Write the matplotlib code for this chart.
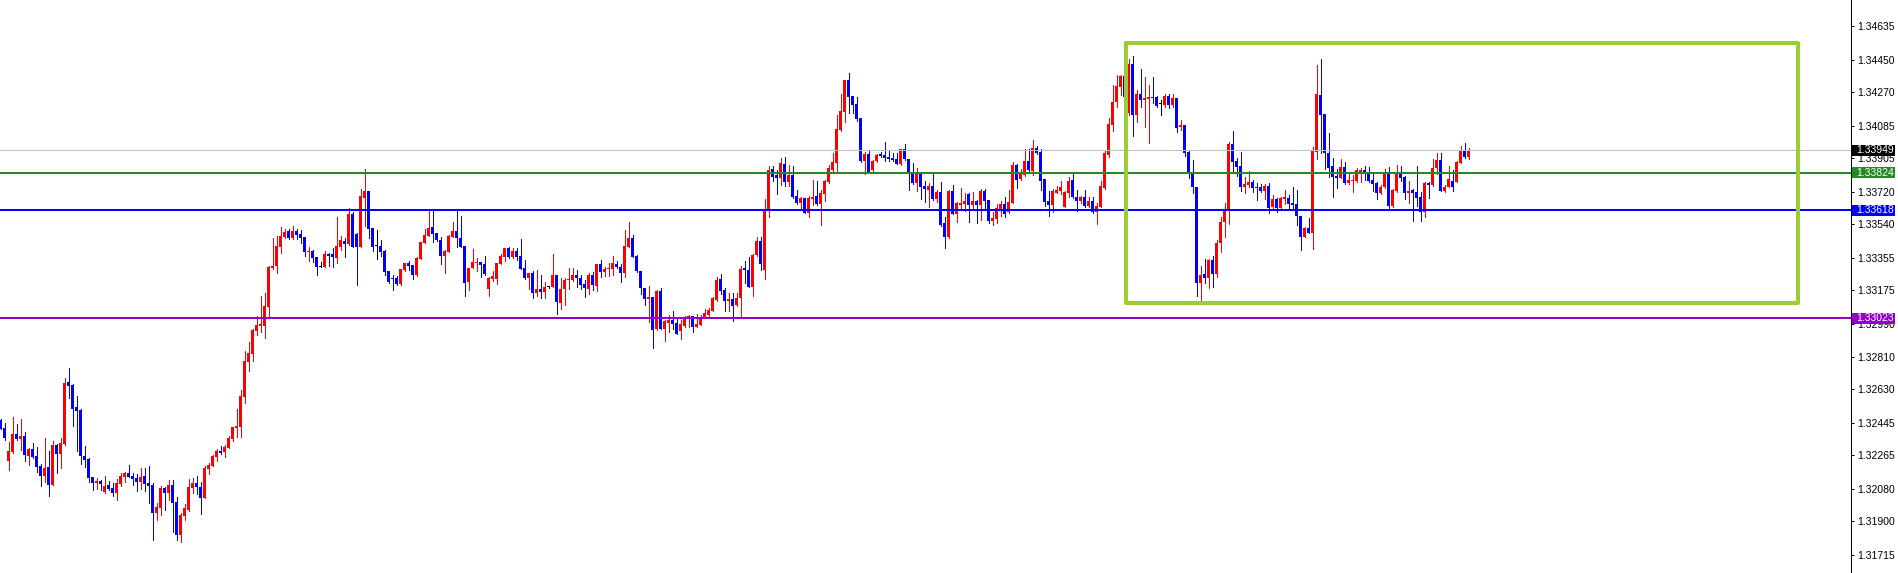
import numpy as np
import matplotlib.pyplot as plt
from matplotlib.patches import Rectangle
from matplotlib.collections import LineCollection
import matplotlib.transforms as mtransforms

# hourly candles (index 0 = leftmost candle)
opens = [
    1.32460, 1.32416, 1.32235, 1.32283, 1.32383, 1.32357, 1.32372, 1.32261, 1.32302, 1.32261,
    1.32206, 1.32153, 1.32201, 1.32103, 1.32322, 1.32274, 1.32328, 1.32670, 1.32653, 1.32532,
    1.32517, 1.32261, 1.32245, 1.32145, 1.32114, 1.32123, 1.32064, 1.32101, 1.32085, 1.32057,
    1.32107, 1.32147, 1.32168, 1.32151, 1.32140, 1.32120, 1.32151, 1.32112, 1.32101, 1.31947,
    1.31976, 1.32085, 1.32057, 1.32101, 1.32007, 1.31825, 1.31930, 1.31963, 1.32085, 1.32112,
    1.32090, 1.32030, 1.32190, 1.32206, 1.32256, 1.32289, 1.32283, 1.32306, 1.32355, 1.32416,
    1.32421, 1.32587, 1.32780, 1.32824, 1.32951, 1.32981, 1.32981, 1.33086, 1.33301, 1.33310,
    1.33417, 1.33470, 1.33503, 1.33465, 1.33503, 1.33487, 1.33469, 1.33389, 1.33393, 1.33360,
    1.33306, 1.33306, 1.33376, 1.33376, 1.33356, 1.33417, 1.33448, 1.33432, 1.33597, 1.33487,
    1.33417, 1.33687, 1.33724, 1.33518, 1.33421, 1.33421, 1.33391, 1.33283, 1.33246, 1.33246,
    1.33211, 1.33288, 1.33327, 1.33314, 1.33261, 1.33350, 1.33439, 1.33476, 1.33524, 1.33491,
    1.33454, 1.33367, 1.33389, 1.33472, 1.33503, 1.33466, 1.33422, 1.33220, 1.33301, 1.33328,
    1.33332, 1.33321, 1.33185, 1.33240, 1.33240, 1.33322, 1.33362, 1.33412, 1.33358, 1.33393,
    1.33365, 1.33299, 1.33242, 1.33272, 1.33163, 1.33183, 1.33168, 1.33194, 1.33194, 1.33262,
    1.33108, 1.33182, 1.33231, 1.33233, 1.33262, 1.33246, 1.33209, 1.33182, 1.33262, 1.33201,
    1.33321, 1.33277, 1.33292, 1.33292, 1.33321, 1.33303, 1.33273, 1.33417, 1.33462, 1.33365,
    1.33283, 1.33190, 1.33130, 1.33141, 1.32962, 1.33172, 1.32962, 1.32997, 1.33012, 1.32994,
    1.32953, 1.32979, 1.33027, 1.33034, 1.32975, 1.32986, 1.33030, 1.33040, 1.33063, 1.33123,
    1.33237, 1.33178, 1.33119, 1.33130, 1.33095, 1.33132, 1.33298, 1.33288, 1.33196, 1.33369,
    1.33448, 1.33288, 1.33625, 1.33846, 1.33812, 1.33796, 1.33873, 1.33772, 1.33812, 1.33698,
    1.33660, 1.33687, 1.33604, 1.33682, 1.33698, 1.33652, 1.33710, 1.33775, 1.33840, 1.33880,
    1.34061, 1.34162, 1.34337, 1.34249, 1.34204, 1.34127, 1.33891, 1.33928, 1.33840, 1.33890,
    1.33928, 1.33923, 1.33912, 1.33906, 1.33901, 1.33873, 1.33954, 1.33901, 1.33827, 1.33767,
    1.33824, 1.33752, 1.33730, 1.33752, 1.33680, 1.33717, 1.33546, 1.33469, 1.33723, 1.33597,
    1.33648, 1.33654, 1.33708, 1.33648, 1.33671, 1.33648, 1.33726, 1.33675, 1.33560, 1.33570,
    1.33625, 1.33652, 1.33607, 1.33660, 1.33868, 1.33791, 1.33814, 1.33890, 1.33835, 1.33962,
    1.33939, 1.33791, 1.33669, 1.33647, 1.33715, 1.33726, 1.33638, 1.33715, 1.33785, 1.33690,
    1.33671, 1.33690, 1.33641, 1.33669, 1.33610, 1.33638, 1.33739, 1.33923, 1.34089, 1.34217,
    1.34300, 1.34359, 1.34153, 1.34425, 1.34144, 1.34260, 1.34228, 1.34234, 1.34245, 1.34241,
    1.34204, 1.34201, 1.34249, 1.34197, 1.34238, 1.34079, 1.34089, 1.33939, 1.33822, 1.33745,
    1.33218, 1.33266, 1.33246, 1.33343, 1.33266, 1.33435, 1.33555, 1.33619, 1.33984, 1.33890,
    1.33862, 1.33748, 1.33757, 1.33775, 1.33748, 1.33748, 1.33726, 1.33753, 1.33636, 1.33680,
    1.33632, 1.33680, 1.33685, 1.33658, 1.33654, 1.33588, 1.33472, 1.33522, 1.33494, 1.33941,
    1.34254, 1.34149, 1.33932, 1.33862, 1.33809, 1.33798, 1.33857, 1.33770, 1.33781, 1.33781,
    1.33825, 1.33840, 1.33825, 1.33785, 1.33770, 1.33712, 1.33745, 1.33827, 1.33641, 1.33726,
    1.33817, 1.33803, 1.33715, 1.33730, 1.33717, 1.33690, 1.33607, 1.33770, 1.33757, 1.33849,
    1.33897, 1.33726, 1.33748, 1.33779, 1.33775, 1.33880, 1.33951, 1.33913,
]
highs = [
    1.32464, 1.32442, 1.32339, 1.32475, 1.32438, 1.32466, 1.32394, 1.32307, 1.32333, 1.32313,
    1.32217, 1.32361, 1.32289, 1.32344, 1.32329, 1.32361, 1.32692, 1.32747, 1.32657, 1.32593,
    1.32521, 1.32317, 1.32249, 1.32145, 1.32138, 1.32131, 1.32151, 1.32123, 1.32111, 1.32134,
    1.32166, 1.32175, 1.32212, 1.32166, 1.32160, 1.32195, 1.32195, 1.32206, 1.32112, 1.32002,
    1.32096, 1.32090, 1.32129, 1.32129, 1.32035, 1.31947, 1.31996, 1.32134, 1.32140, 1.32151,
    1.32118, 1.32206, 1.32224, 1.32267, 1.32300, 1.32317, 1.32322, 1.32372, 1.32421, 1.32521,
    1.32626, 1.32841, 1.32891, 1.32962, 1.33034, 1.33146, 1.33160, 1.33310, 1.33465, 1.33476,
    1.33524, 1.33514, 1.33514, 1.33531, 1.33514, 1.33509, 1.33472, 1.33417, 1.33399, 1.33360,
    1.33332, 1.33393, 1.33382, 1.33410, 1.33581, 1.33476, 1.33463, 1.33629, 1.33610, 1.33491,
    1.33735, 1.33846, 1.33724, 1.33518, 1.33509, 1.33454, 1.33399, 1.33283, 1.33259, 1.33255,
    1.33294, 1.33327, 1.33338, 1.33314, 1.33358, 1.33443, 1.33514, 1.33615, 1.33615, 1.33491,
    1.33472, 1.33399, 1.33481, 1.33553, 1.33618, 1.33588, 1.33422, 1.33301, 1.33404, 1.33353,
    1.33332, 1.33365, 1.33248, 1.33281, 1.33327, 1.33376, 1.33412, 1.33417, 1.33410, 1.33410,
    1.33459, 1.33343, 1.33272, 1.33281, 1.33288, 1.33262, 1.33222, 1.33196, 1.33376, 1.33262,
    1.33244, 1.33242, 1.33301, 1.33298, 1.33288, 1.33261, 1.33233, 1.33270, 1.33279, 1.33321,
    1.33343, 1.33306, 1.33325, 1.33365, 1.33338, 1.33322, 1.33509, 1.33555, 1.33481, 1.33373,
    1.33283, 1.33190, 1.33201, 1.33141, 1.33178, 1.33189, 1.33012, 1.33040, 1.33062, 1.33030,
    1.33012, 1.33034, 1.33040, 1.33034, 1.33045, 1.33041, 1.33073, 1.33077, 1.33137, 1.33251,
    1.33266, 1.33187, 1.33163, 1.33160, 1.33163, 1.33312, 1.33338, 1.33362, 1.33376, 1.33472,
    1.33469, 1.33682, 1.33862, 1.33862, 1.33840, 1.33908, 1.33912, 1.33868, 1.33862, 1.33730,
    1.33693, 1.33687, 1.33698, 1.33785, 1.33779, 1.33730, 1.33785, 1.33868, 1.33934, 1.34144,
    1.34260, 1.34337, 1.34377, 1.34249, 1.34245, 1.34127, 1.33941, 1.33951, 1.33895, 1.33928,
    1.33941, 1.33995, 1.33951, 1.33932, 1.33936, 1.33958, 1.33984, 1.33901, 1.33879, 1.33851,
    1.33827, 1.33781, 1.33767, 1.33818, 1.33730, 1.33774, 1.33582, 1.33730, 1.33759, 1.33662,
    1.33742, 1.33715, 1.33713, 1.33717, 1.33675, 1.33734, 1.33735, 1.33675, 1.33610, 1.33651,
    1.33671, 1.33693, 1.33730, 1.33886, 1.33873, 1.33844, 1.33956, 1.33956, 1.34006, 1.33973,
    1.33954, 1.33791, 1.33724, 1.33734, 1.33752, 1.33779, 1.33723, 1.33803, 1.33822, 1.33730,
    1.33698, 1.33730, 1.33691, 1.33693, 1.33660, 1.33779, 1.33951, 1.34127, 1.34309, 1.34365,
    1.34365, 1.34552, 1.34451, 1.34469, 1.34282, 1.34398, 1.34355, 1.34309, 1.34355, 1.34249,
    1.34227, 1.34258, 1.34260, 1.34260, 1.34238, 1.34116, 1.34089, 1.33951, 1.33895, 1.33745,
    1.33310, 1.33347, 1.33349, 1.33365, 1.33454, 1.33582, 1.33660, 1.33996, 1.34055, 1.33905,
    1.33939, 1.33803, 1.33835, 1.33785, 1.33770, 1.33763, 1.33763, 1.33767, 1.33702, 1.33684,
    1.33689, 1.33730, 1.33702, 1.33748, 1.33730, 1.33588, 1.33527, 1.33577, 1.33965, 1.34420,
    1.34453, 1.34149, 1.34046, 1.33905, 1.33846, 1.33901, 1.33883, 1.33818, 1.33812, 1.33853,
    1.33853, 1.33862, 1.33858, 1.33822, 1.33775, 1.33757, 1.33846, 1.33858, 1.33734, 1.33868,
    1.33862, 1.33807, 1.33779, 1.33735, 1.33862, 1.33720, 1.33775, 1.33775, 1.33899, 1.33936,
    1.33932, 1.33757, 1.33862, 1.33840, 1.33890, 1.33973, 1.33988, 1.33963,
]
lows = [
    1.32409, 1.32350, 1.32184, 1.32278, 1.32350, 1.32295, 1.32235, 1.32212, 1.32249, 1.32175,
    1.32097, 1.32118, 1.32042, 1.32103, 1.32169, 1.32197, 1.32322, 1.32583, 1.32427, 1.32291,
    1.32219, 1.32202, 1.32116, 1.32074, 1.32081, 1.32075, 1.32055, 1.32074, 1.32041, 1.32019,
    1.32096, 1.32118, 1.32145, 1.32103, 1.32068, 1.32079, 1.32068, 1.32002, 1.31798, 1.31908,
    1.31936, 1.31963, 1.32019, 1.31842, 1.31798, 1.31787, 1.31908, 1.31958, 1.32057, 1.32052,
    1.31941, 1.32030, 1.32162, 1.32206, 1.32234, 1.32272, 1.32256, 1.32306, 1.32344, 1.32366,
    1.32366, 1.32554, 1.32731, 1.32787, 1.32929, 1.32946, 1.32914, 1.33030, 1.33294, 1.33273,
    1.33380, 1.33465, 1.33459, 1.33459, 1.33459, 1.33439, 1.33365, 1.33339, 1.33332, 1.33262,
    1.33304, 1.33306, 1.33310, 1.33306, 1.33328, 1.33399, 1.33362, 1.33426, 1.33417, 1.33205,
    1.33417, 1.33531, 1.33466, 1.33393, 1.33350, 1.33365, 1.33259, 1.33218, 1.33176, 1.33207,
    1.33207, 1.33285, 1.33288, 1.33237, 1.33257, 1.33350, 1.33435, 1.33476, 1.33443, 1.33450,
    1.33321, 1.33270, 1.33386, 1.33469, 1.33417, 1.33414, 1.33146, 1.33178, 1.33298, 1.33285,
    1.33251, 1.33261, 1.33146, 1.33230, 1.33213, 1.33322, 1.33339, 1.33353, 1.33354, 1.33343,
    1.33296, 1.33238, 1.33182, 1.33132, 1.33146, 1.33132, 1.33132, 1.33189, 1.33194, 1.33047,
    1.33074, 1.33097, 1.33183, 1.33230, 1.33193, 1.33182, 1.33141, 1.33157, 1.33178, 1.33174,
    1.33251, 1.33257, 1.33255, 1.33261, 1.33298, 1.33224, 1.33251, 1.33414, 1.33358, 1.33279,
    1.33154, 1.33093, 1.33003, 1.32859, 1.32957, 1.32962, 1.32896, 1.32944, 1.32962, 1.32935,
    1.32907, 1.32975, 1.32975, 1.32946, 1.32972, 1.32983, 1.33027, 1.33030, 1.33063, 1.33117,
    1.33156, 1.33063, 1.33063, 1.33008, 1.33091, 1.33034, 1.33218, 1.33193, 1.33145, 1.33365,
    1.33288, 1.33238, 1.33582, 1.33781, 1.33708, 1.33757, 1.33752, 1.33752, 1.33687, 1.33652,
    1.33625, 1.33603, 1.33582, 1.33647, 1.33647, 1.33538, 1.33671, 1.33770, 1.33836, 1.33836,
    1.34057, 1.34107, 1.34153, 1.34153, 1.34111, 1.33886, 1.33818, 1.33825, 1.33831, 1.33884,
    1.33913, 1.33890, 1.33890, 1.33890, 1.33873, 1.33869, 1.33895, 1.33730, 1.33762, 1.33726,
    1.33680, 1.33665, 1.33634, 1.33676, 1.33665, 1.33531, 1.33412, 1.33466, 1.33596, 1.33555,
    1.33619, 1.33614, 1.33555, 1.33619, 1.33549, 1.33564, 1.33632, 1.33546, 1.33538, 1.33546,
    1.33588, 1.33582, 1.33601, 1.33656, 1.33739, 1.33785, 1.33809, 1.33836, 1.33812, 1.33928,
    1.33730, 1.33643, 1.33588, 1.33610, 1.33715, 1.33706, 1.33634, 1.33693, 1.33684, 1.33615,
    1.33656, 1.33638, 1.33634, 1.33604, 1.33544, 1.33638, 1.33737, 1.33913, 1.34057, 1.34186,
    1.34254, 1.34245, 1.34144, 1.34028, 1.34107, 1.34190, 1.34079, 1.33991, 1.34212, 1.34186,
    1.34144, 1.34190, 1.34185, 1.34186, 1.34052, 1.34061, 1.33917, 1.33795, 1.33712, 1.33145,
    1.33119, 1.33215, 1.33190, 1.33194, 1.33251, 1.33389, 1.33472, 1.33542, 1.33836, 1.33809,
    1.33726, 1.33715, 1.33748, 1.33720, 1.33675, 1.33720, 1.33678, 1.33604, 1.33619, 1.33610,
    1.33629, 1.33651, 1.33623, 1.33626, 1.33537, 1.33399, 1.33469, 1.33491, 1.33402, 1.33901,
    1.33932, 1.33844, 1.33803, 1.33693, 1.33742, 1.33795, 1.33763, 1.33763, 1.33720, 1.33775,
    1.33775, 1.33785, 1.33775, 1.33724, 1.33680, 1.33706, 1.33739, 1.33623, 1.33638, 1.33720,
    1.33781, 1.33678, 1.33656, 1.33560, 1.33643, 1.33560, 1.33582, 1.33684, 1.33753, 1.33818,
    1.33726, 1.33720, 1.33745, 1.33726, 1.33772, 1.33877, 1.33905, 1.33901,
]
closes = [
    1.32412, 1.32361, 1.32289, 1.32383, 1.32357, 1.32372, 1.32267, 1.32302, 1.32254, 1.32202,
    1.32153, 1.32195, 1.32103, 1.32322, 1.32274, 1.32332, 1.32664, 1.32649, 1.32521, 1.32511,
    1.32263, 1.32239, 1.32142, 1.32114, 1.32123, 1.32105, 1.32096, 1.32079, 1.32057, 1.32111,
    1.32151, 1.32168, 1.32145, 1.32134, 1.32120, 1.32145, 1.32107, 1.32096, 1.31947, 1.31980,
    1.32085, 1.32057, 1.32101, 1.32002, 1.31825, 1.31936, 1.31974, 1.32090, 1.32112, 1.32092,
    1.32030, 1.32195, 1.32212, 1.32261, 1.32289, 1.32278, 1.32311, 1.32361, 1.32421, 1.32427,
    1.32593, 1.32786, 1.32830, 1.32957, 1.32986, 1.32988, 1.33089, 1.33306, 1.33310, 1.33421,
    1.33476, 1.33498, 1.33465, 1.33503, 1.33483, 1.33466, 1.33387, 1.33393, 1.33356, 1.33306,
    1.33306, 1.33375, 1.33367, 1.33358, 1.33421, 1.33454, 1.33432, 1.33597, 1.33417, 1.33417,
    1.33697, 1.33724, 1.33514, 1.33417, 1.33421, 1.33389, 1.33277, 1.33222, 1.33240, 1.33213,
    1.33294, 1.33327, 1.33310, 1.33261, 1.33354, 1.33443, 1.33481, 1.33520, 1.33489, 1.33454,
    1.33367, 1.33393, 1.33476, 1.33503, 1.33466, 1.33417, 1.33218, 1.33301, 1.33332, 1.33332,
    1.33316, 1.33266, 1.33244, 1.33257, 1.33327, 1.33367, 1.33412, 1.33358, 1.33393, 1.33358,
    1.33296, 1.33242, 1.33272, 1.33163, 1.33183, 1.33168, 1.33194, 1.33194, 1.33262, 1.33110,
    1.33185, 1.33235, 1.33238, 1.33262, 1.33242, 1.33205, 1.33190, 1.33262, 1.33205, 1.33321,
    1.33277, 1.33296, 1.33296, 1.33327, 1.33303, 1.33273, 1.33421, 1.33462, 1.33360, 1.33283,
    1.33190, 1.33130, 1.33141, 1.32957, 1.33172, 1.32962, 1.33005, 1.33012, 1.32990, 1.32935,
    1.32988, 1.33027, 1.33034, 1.32975, 1.32992, 1.33030, 1.33049, 1.33067, 1.33132, 1.33233,
    1.33174, 1.33119, 1.33130, 1.33089, 1.33135, 1.33294, 1.33288, 1.33196, 1.33373, 1.33448,
    1.33321, 1.33625, 1.33840, 1.33803, 1.33796, 1.33879, 1.33774, 1.33812, 1.33691, 1.33660,
    1.33687, 1.33604, 1.33687, 1.33693, 1.33652, 1.33715, 1.33779, 1.33853, 1.33884, 1.34066,
    1.34166, 1.34337, 1.34245, 1.34199, 1.34122, 1.33891, 1.33928, 1.33831, 1.33890, 1.33923,
    1.33917, 1.33908, 1.33901, 1.33895, 1.33873, 1.33954, 1.33901, 1.33827, 1.33767, 1.33824,
    1.33748, 1.33734, 1.33752, 1.33680, 1.33717, 1.33538, 1.33472, 1.33723, 1.33597, 1.33656,
    1.33660, 1.33669, 1.33648, 1.33671, 1.33648, 1.33726, 1.33671, 1.33560, 1.33577, 1.33632,
    1.33652, 1.33597, 1.33665, 1.33868, 1.33785, 1.33818, 1.33890, 1.33840, 1.33962, 1.33936,
    1.33779, 1.33665, 1.33647, 1.33724, 1.33730, 1.33746, 1.33719, 1.33779, 1.33690, 1.33671,
    1.33690, 1.33641, 1.33669, 1.33610, 1.33641, 1.33752, 1.33932, 1.34094, 1.34217, 1.34304,
    1.34359, 1.34245, 1.34425, 1.34144, 1.34260, 1.34227, 1.34238, 1.34245, 1.34238, 1.34195,
    1.34204, 1.34249, 1.34201, 1.34238, 1.34072, 1.34089, 1.33936, 1.33825, 1.33745, 1.33218,
    1.33261, 1.33246, 1.33343, 1.33266, 1.33439, 1.33555, 1.33619, 1.33984, 1.33886, 1.33858,
    1.33748, 1.33765, 1.33775, 1.33742, 1.33742, 1.33726, 1.33753, 1.33632, 1.33680, 1.33632,
    1.33685, 1.33693, 1.33652, 1.33648, 1.33586, 1.33472, 1.33522, 1.33494, 1.33945, 1.34260,
    1.34144, 1.33932, 1.33853, 1.33803, 1.33798, 1.33857, 1.33770, 1.33785, 1.33785, 1.33840,
    1.33840, 1.33818, 1.33781, 1.33763, 1.33712, 1.33748, 1.33827, 1.33643, 1.33730, 1.33817,
    1.33798, 1.33715, 1.33726, 1.33712, 1.33687, 1.33607, 1.33770, 1.33759, 1.33853, 1.33897,
    1.33726, 1.33748, 1.33791, 1.33748, 1.33886, 1.33951, 1.33910, 1.33949,
]

# horizontal levels drawn on the chart
level_prices = [1.33949, 1.33824, 1.33618, 1.33023]
level_colors = ["#C0C0C0", "#228B22", "#0000FF", "#9400D3"]
level_box_colors = ["#000000", "#228B22", "#0000FF", "#9400D3"]
level_widths = [1, 2, 2, 2]  # pixels

# rectangle (candle index / price)
box_start, box_end = 281.375, 449.375
box_top, box_bottom = 1.34543, 1.33108

tick_values = [1.34635, 1.34450, 1.34270, 1.34085, 1.33905, 1.33720, 1.33540, 1.33355,
               1.33175, 1.32990, 1.32810, 1.32630, 1.32445, 1.32265, 1.32080, 1.31900, 1.31715]

W, H = 1898, 573
AX_W = 1851          # plot area width in px, price scale to the right
PX = 1 / 100 * 72    # one pixel in points

y_lo, y_hi = 1.316155, 1.347785
px_price = (y_hi - y_lo) / H

fig = plt.figure(figsize=(W / 100, H / 100), dpi=100, facecolor="white")
ax = fig.add_axes([0, 0, AX_W / W, 1])
ax.set_facecolor("white")

o = np.array(opens); h = np.array(highs); l = np.array(lows); c = np.array(closes)
x = np.arange(len(c))
cols = np.where(c > o, "#FF0000", np.where(c < o, "#0000FF", "#000000"))

segs = [[(xi, lo), (xi, hi)] for xi, lo, hi in zip(x, l, h)]
ax.add_collection(LineCollection(segs, colors=cols, linewidths=PX,
                                 antialiased=False, zorder=3))
body_h = np.maximum(np.abs(c - o), px_price)
ax.bar(x, body_h, bottom=np.minimum(o, c), width=0.8, color=cols,
       linewidth=0, antialiased=False, zorder=4)

for p, col, lw in zip(level_prices, level_colors, level_widths):
    ax.axhline(p, color=col, linewidth=lw * PX, zorder=5)

ax.add_patch(Rectangle((box_start, box_bottom), box_end - box_start, box_top - box_bottom,
                       facecolor="none", edgecolor="#9ACD32", linewidth=4 * PX,
                       joinstyle="round", zorder=6))

ax.set_xlim(-0.125, -0.125 + AX_W / 4)
ax.set_ylim(y_lo, y_hi)

for s in ["top", "left", "bottom"]:
    ax.spines[s].set_visible(False)
ax.spines["right"].set_linewidth(PX)
ax.spines["right"].set_color("black")
ax.set_xticks([])
ax.yaxis.tick_right()
ax.set_yticks(tick_values)
ax.set_yticklabels([f"{v:.5f}" for v in tick_values])
ax.tick_params(axis="y", direction="out", length=3 * PX, width=PX, pad=3 * PX,
               labelsize=7.5, colors="black")
for t in ax.get_yticklabels():
    t.set_fontfamily("Liberation Sans")

# current-price markers on the scale
trans = mtransforms.blended_transform_factory(fig.transFigure, ax.transData)
for p, col in zip(level_prices, level_box_colors):
    ax.add_patch(Rectangle(((AX_W + 1) / W, p - 5.5 * px_price), 43 / W, 11 * px_price,
                           transform=trans, facecolor=col, edgecolor="none",
                           clip_on=False, zorder=10))
    ax.text((AX_W + 5) / W, p, f"{p:.5f}", transform=trans, color="white",
            fontsize=7.5, family="Liberation Sans", va="center", ha="left",
            clip_on=False, zorder=11)

fig.savefig("out.png", dpi=100, facecolor="white")
